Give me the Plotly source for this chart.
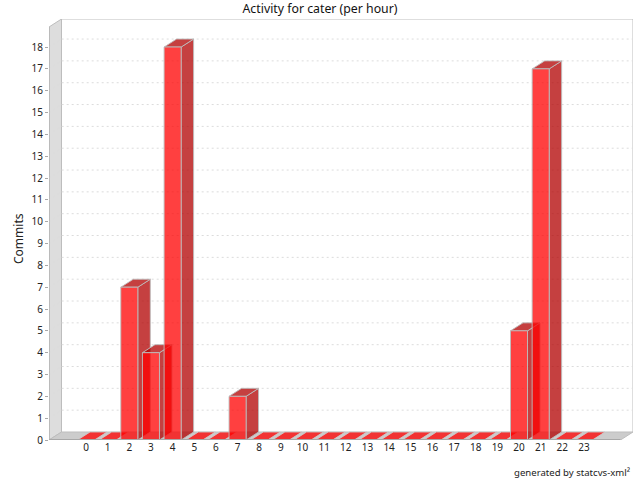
import plotly.graph_objects as go

hours = list(range(24))
commits = [0, 0, 7, 4, 18, 0, 0, 2, 0, 0, 0, 0, 0, 0, 0, 0, 0, 0, 0, 0, 5, 17, 0, 0]
y_ticks = list(range(19))

W, H = 640, 480
L, R, T, B = 49, 7, 19, 40
PXX, PXY = 21.65, 21.83          # pixels per unit
X0 = 86                          # pixel of hour 0
XMIN = (L - X0) / PXX
XMAX = (W - R - X0) / PXX
YMAX = (H - B - T) / PXY
DX, DY = 12.5 / PXX, 8 / PXY     # 3D depth
HALF = 8.5 / PXX
FRONT_R = XMAX - DX
FRONT_T = YMAX - DY
BORDER = "#bdbdbd"

fig = go.Figure()


def poly(xs, ys, fill, line=None, width=1):
    fig.add_trace(go.Scatter(
        x=xs + xs[:1], y=ys + ys[:1], mode="lines", fill="toself", fillcolor=fill,
        line=dict(color=line or "rgba(0,0,0,0)", width=width if line else 0),
        hoverinfo="skip", showlegend=False, cliponaxis=False))


def seg(xs, ys, color, dash="solid", width=1):
    fig.add_trace(go.Scatter(x=xs, y=ys, mode="lines",
                             line=dict(color=color, width=width, dash=dash),
                             hoverinfo="skip", showlegend=False, cliponaxis=False))


# walls and floor
poly([XMIN, XMIN + DX, XMIN + DX, XMIN], [0, DY, YMAX, FRONT_T], "#dddddd", BORDER)
poly([XMIN, FRONT_R, XMAX, XMIN + DX], [0, 0, DY, DY], "#cccccc", BORDER)
seg([XMIN + DX, XMAX, XMAX], [YMAX, YMAX, DY], BORDER)

# grid
for v in y_ticks[1:]:
    seg([XMIN, XMIN + DX, XMAX], [v, v + DY, v + DY], "#dcdcdc", "2px,3px")

# bars
FRONT = "rgba(255,0,0,0.75)"
SIDE = "rgba(178,0,0,0.75)"
TOP = "rgba(178,0,0,0.75)"
EDGE = "rgba(190,190,190,0.9)"
for h, c in zip(hours, commits):
    x1, x2 = h - HALF, h + HALF
    if c == 0:
        poly([x1, x2, x2 + DX, x1 + DX], [0, 0, DY, DY], "rgba(255,0,0,0.75)",
             "rgba(205,205,205,0.85)")
        continue
    poly([x2, x2 + DX, x2 + DX, x2], [0, DY, c + DY, c], SIDE, EDGE)
    poly([x1, x2, x2 + DX, x1 + DX], [c, c, c + DY, c + DY], TOP, EDGE)
    poly([x1, x2, x2, x1], [0, 0, c, c], FRONT, EDGE)

# axis lines
seg([XMIN, FRONT_R], [0, 0], "#a8a8a8", width=2)
seg([XMIN, XMIN], [0, FRONT_T], "#a8a8a8", width=1)

font = "Noto Sans"
fig.update_layout(
    width=W, height=H, autosize=False,
    margin=dict(l=L, r=R, t=T, b=B),
    paper_bgcolor="white", plot_bgcolor="white",
    font=dict(family=font, size=10, color="#222222"),
    title=dict(text="Activity for cater (per hour)", x=0.5, xanchor="center",
               y=1 - 8.5 / H, yanchor="middle", font=dict(size=12.3, color="#111111")),
    xaxis=dict(range=[XMIN, XMAX], tickmode="array", tickvals=hours, automargin=False,
               ticktext=[str(h) for h in hours], showgrid=False, zeroline=False,
               showline=False, ticks="", tickfont=dict(size=10)),
    yaxis=dict(range=[0, YMAX], tickmode="array", tickvals=y_ticks, automargin=False,
               ticktext=[str(v) for v in y_ticks], showgrid=False, zeroline=False,
               showline=False, ticks="outside", ticklen=3, tickcolor="#a8a8a8",
               tickfont=dict(size=10)),
    annotations=[
        dict(text="generated by statcvs-xml²", xref="paper", yref="paper",
             x=(632 - L) / (W - L - R), xanchor="right", y=(H - B - 472) / (H - T - B),
             yanchor="middle", showarrow=False, font=dict(size=9.6, color="#222222")),
        dict(text="Commits", xref="paper", yref="paper", textangle=-90,
             x=(19 - L) / (W - L - R), xanchor="center", y=(H - B - 239) / (H - T - B),
             yanchor="middle", showarrow=False, font=dict(size=12, color="#222222")),
    ],
)
fig.write_html("out.html", config={"displayModeBar": False},
               post_script="document.body.style.margin='0';document.body.style.overflow='hidden';")
